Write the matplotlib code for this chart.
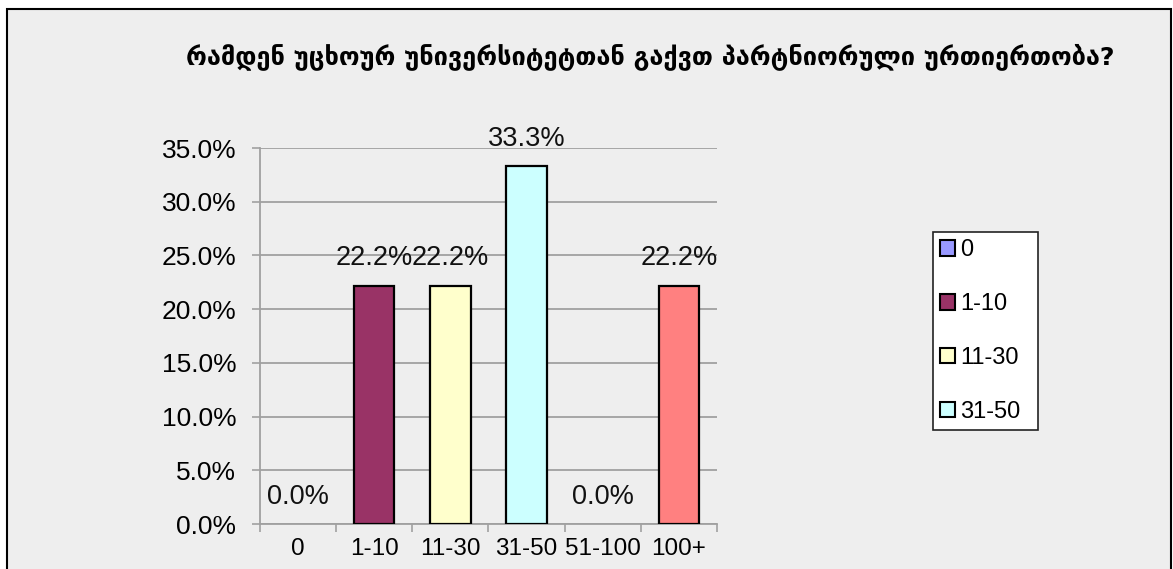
import matplotlib
matplotlib.use("Agg")
import matplotlib.pyplot as plt
from matplotlib.patches import Patch, Rectangle

# Data
categories = ["0", "1-10", "11-30", "31-50", "51-100", "100+"]
shares = [0.0, 22.2, 22.2, 33.3, 0.0, 22.2]
bar_colors = ["#9999FF", "#993366", "#FFFFCC", "#CCFFFF", "#660066", "#FF8080"]
yticks = [0, 5, 10, 15, 20, 25, 30, 35]
title = "რამდენ უცხოურ უნივერსიტეტთან გაქვთ პარტნიორული ურთიერთობა?"
legend_shown = 4  # the legend box cuts off after the fourth entry

W, H = 1173, 569
bg = "#EEEEEE"
grid_col = "#A0A0A0"
font = ["Liberation Sans", "DejaVu Sans"]

fig = plt.figure(figsize=(W / 100, H / 100), dpi=100)
fig.patch.set_facecolor("white")

# outer chart frame
frame = Rectangle((7 / W, -0.05), (1171 - 7) / W, 1.05 - 9 / H,
                  transform=fig.transFigure, facecolor=bg,
                  edgecolor="black", linewidth=1.5, zorder=-5)
fig.patches.append(frame)

ax = fig.add_axes([260 / W, 45 / H, (717 - 260) / W, (524 - 148) / H])
ax.set_zorder(2)
ax.set_facecolor(bg)

x = range(len(categories))
edges = ["black" if v > 0 else "none" for v in shares]
bars = ax.bar(x, shares, width=0.53, color=bar_colors,
              edgecolor=edges, linewidth=1.6, zorder=3)

for xi, v in zip(x, shares):
    ax.annotate(f"{v:.1f}%", (xi, v), xytext=(0, 19.5),
                textcoords="offset points", ha="center", va="center",
                fontsize=19.5, family=font, color="#111111")

ax.set_xlim(-0.5, len(categories) - 0.5)
ax.set_ylim(0, 35)
ax.set_yticks(yticks)
ax.set_yticklabels([f"{t:.1f}%" for t in yticks], family=font, fontsize=19)
ax.yaxis.grid(True, color=grid_col, linewidth=1.3, zorder=0)
ax.set_axisbelow(True)

ax.set_xticks([i - 0.5 for i in range(len(categories) + 1)])
ax.set_xticklabels([])
ax.set_xticks(list(x), minor=True)
ax.set_xticklabels(categories, minor=True, family=font, fontsize=17.5)
ax.tick_params(axis="x", which="minor", length=0, pad=10)
ax.tick_params(axis="x", which="major", length=6, width=1.2, color=grid_col)
ax.tick_params(axis="y", length=6, width=1.2, color=grid_col, pad=11)

for s in ["top", "right"]:
    ax.spines[s].set_visible(False)
for s in ["left", "bottom"]:
    ax.spines[s].set_color(grid_col)
    ax.spines[s].set_linewidth(1.3)

fig.text(650 / W, 1 - 57 / H, title, ha="center", va="center",
         fontsize=18.3, fontweight="bold", family=["DejaVu Sans"])

handles = [Patch(facecolor=c, edgecolor="black", linewidth=1.5)
           for c in bar_colors[:legend_shown]]
leg = fig.legend(handles, categories[:legend_shown],
                 loc="upper left", bbox_to_anchor=(933 / W, 1 - 232 / H, 105 / W, 0),
                 mode="expand", frameon=True, fancybox=False, framealpha=1,
                 borderpad=0.3, labelspacing=1.35, handlelength=0.65,
                 handleheight=0.65, handletextpad=0.2, borderaxespad=0,
                 prop={"family": font, "size": 17})
leg.get_frame().set_edgecolor("#222222")
leg.get_frame().set_linewidth(1.2)
leg.get_frame().set_facecolor("white")

fig.savefig("out.png", dpi=100, facecolor=fig.get_facecolor())
